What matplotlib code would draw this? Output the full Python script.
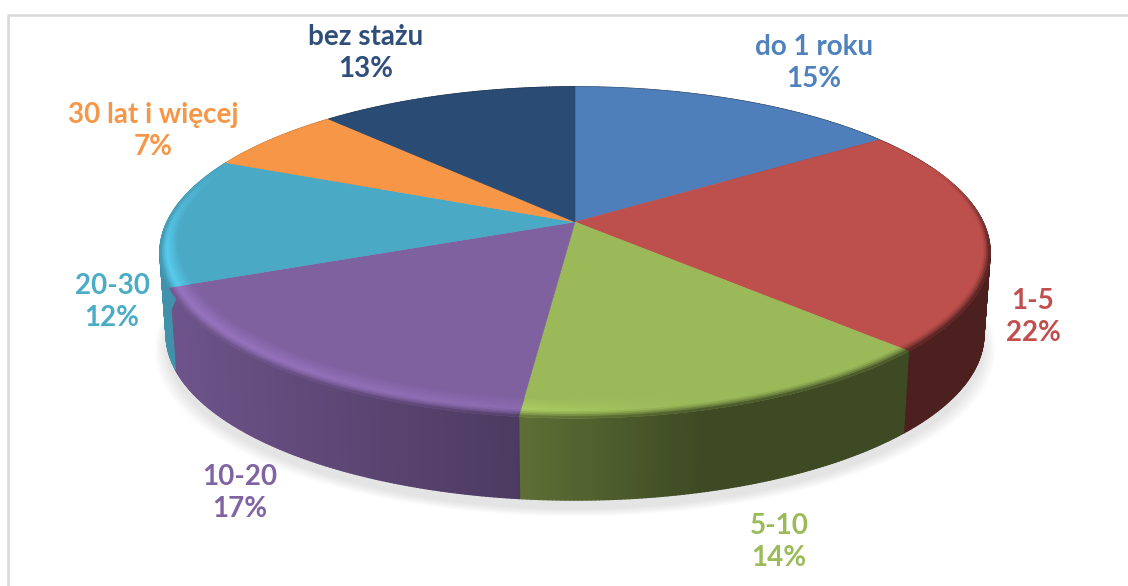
import numpy as np
import matplotlib
matplotlib.use("Agg")
import matplotlib.pyplot as plt
from matplotlib.collections import PolyCollection
from matplotlib.colors import to_rgb

categories = ["do 1 roku", "1-5", "5-10", "10-20", "20-30", "30 lat i więcej", "bez stażu"]
# percentages as printed on the labels
percent_labels = [15, 22, 14, 17, 12, 7, 13]
# slice sizes, they do not quite follow the rounded labels
shares = [15.4, 22.0, 14.4, 17.0, 12.7, 6.5, 12.0]
colors = ["#4f7fba", "#bd4f4c", "#9bb959", "#7f61a0", "#4aa9c5", "#f79646", "#2a4b74"]
label_colors = ["#4f81bd", "#c0504d", "#9bbb59", "#8064a2", "#4bacc6", "#f79646", "#2f4f7a"]

# layout, in pixels of the picture
label_pos = [(814, 63), (1033, 317), (779, 542), (240, 493), (112, 302), (153, 131), (366, 53)]
cx, cy = 575, 222
a, b, p = 408, 160, 0.184
depth, bottom_scale = 82, 0.985


def project(theta, r=1.0, drop=0.0, scale=1.0):
    # clockwise angle from 12 o'clock to screen position, with perspective
    u, v = r * np.sin(theta), r * np.cos(theta)
    w = 1 + p * v
    return cx + scale * a * u / w, cy + drop - b * v / w


def side_factor(theta):
    x = project(theta)[0]
    return np.interp(x, [170, 520, 700, 1000], [0.86, 0.60, 0.40, 0.40])


def light_factor(theta):
    x = project(theta)[0]
    return np.interp(x, [170, 520, 700, 1000], [1.2, 1.1, 1.0, 1.0])


def bevel_width(theta):
    return 0.035 + 0.05 * np.clip(-np.cos(theta), 0, 1)


fig = plt.figure(figsize=(11.28, 5.86), dpi=100)
ax = fig.add_axes([0, 0, 1, 1])
ax.set_xlim(0, 1128)
ax.set_ylim(586, 0)
ax.axis("off")

# chart frame, only top and left fall inside the crop
ax.plot([8, 8, 1128], [586, 15, 15], color="#d9d9d9", lw=1.8, zorder=1)

# soft shadow below the pie
all_t = np.linspace(0, 2 * np.pi, 361)
for frac in np.linspace(0, 1, 12):
    gray = 1 - 0.105 * frac
    sx, sy = project(all_t, drop=depth + 17 - 8 * frac, scale=bottom_scale + 0.03 * (1 - frac))
    ax.fill(sx, sy, color=(gray, gray, gray), lw=0, zorder=2)

edges = 2 * np.pi * np.cumsum([0] + shares) / sum(shares)

# side wall, strips slice by slice
for k, col in enumerate(colors):
    base = np.array(to_rgb(col))
    ts = np.arange(edges[k], edges[k + 1], np.radians(0.5))
    ts = np.append(ts, edges[k + 1])
    polys, cols = [], []
    for t0, t1 in zip(ts[:-1], ts[1:]):
        x0, y0 = project(t0)
        x1, y1 = project(t1)
        x2, y2 = project(t1, drop=depth, scale=bottom_scale)
        x3, y3 = project(t0, drop=depth, scale=bottom_scale)
        polys.append([(x0, y0), (x1, y1), (x2, y2), (x3, y3)])
        cols.append(base * side_factor((t0 + t1) / 2))
    ax.add_collection(PolyCollection(polys, facecolors=cols, edgecolors=cols, linewidths=1.0, zorder=3))

# flat top of each slice
for k, col in enumerate(colors):
    ts = np.linspace(edges[k], edges[k + 1], 120)
    x, y = project(ts)
    ax.fill(np.r_[cx, x], np.r_[cy, y], color=col, lw=0.4, zorder=4)

# bevel on the rim, fades out towards the back
rs = np.linspace(0, 1, 13)
for k, col in enumerate(colors):
    base = np.array(to_rgb(col))
    ts = np.arange(edges[k], edges[k + 1], np.radians(0.5))
    ts = np.append(ts, edges[k + 1])
    polys, cols = [], []
    for t0, t1 in zip(ts[:-1], ts[1:]):
        tm = (t0 + t1) / 2
        fade = np.clip((0.35 - np.cos(tm)) / 0.5, 0, 1)
        if fade == 0:
            continue
        width = bevel_width(tm)
        for s0, s1 in zip(rs[:-1], rs[1:]):
            r0, r1 = 1 - width * (1 - s0), 1 - width * (1 - s1)
            s = (s0 + s1) / 2
            light = light_factor(tm)
            if s < 0.62:
                f = 1 + (light - 1) * s / 0.62
            else:
                f = light + (side_factor(tm) - light) * ((s - 0.62) / 0.38) ** 1.5
            f = 1 + (f - 1) * fade
            polys.append([project(t0, r0), project(t1, r0), project(t1, r1), project(t0, r1)])
            cols.append(np.clip(base * f, 0, 1))
    ax.add_collection(PolyCollection(polys, facecolors=cols, edgecolors=cols, linewidths=0.6, zorder=5))

# labels: name over percentage
for name, pct, pos, col in zip(categories, percent_labels, label_pos, label_colors):
    ax.text(pos[0], pos[1] - 16, name, color=col, ha="center", va="center",
            fontsize=20, fontweight="bold", family="Lato", zorder=6)
    ax.text(pos[0], pos[1] + 16, f"{pct}%", color=col, ha="center", va="center",
            fontsize=20, fontweight="bold", family="Lato", zorder=6)

fig.savefig("out.png", dpi=100)
